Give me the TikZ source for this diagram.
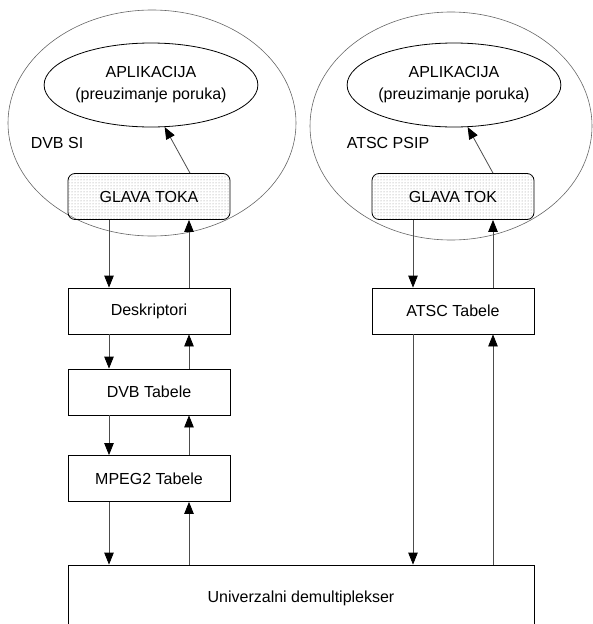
\documentclass[tikz,border=0pt]{standalone}
\usepackage{fontspec}
\setmainfont{Liberation Sans}
\usetikzlibrary{shapes.geometric,patterns,arrows.meta}
\begin{document}
\begin{tikzpicture}[x=1pt,y=-1pt,font=\fontsize{16}{22}\selectfont,
                oval/.style={draw=black!60,line width=0.6pt,ellipse,inner sep=0pt,align=center},
                app/.style={oval,draw=black,line width=0.8pt},
                blok/.style={draw=black,line width=0.8pt,minimum width=162pt,minimum height=46pt,inner sep=0pt},
                glava/.style={blok,rounded corners=7pt,pattern=dots,pattern color=black!45},
                arr/.style={draw=black!70,line width=0.8pt,-{Triangle[length=12pt,width=9.5pt,color=black]}}]
                \useasboundingbox (0,0) rectangle (593,624);
                \clip (0,0) rectangle (593,624);
                % DVB strana
                \node[oval,minimum width=288pt,minimum height=226pt] (O1) at (152,123) {};
                \node[app,minimum width=202pt,minimum height=84pt] (A1) at (151,85) {APLIKACIJA\\(preuzimanje poruka)};
                \node (L1) at (57,143) {DVB SI};
                \node[glava] (G1) at (149,196.5) {GLAVA TOKA};
                \node[blok] (D1) at (149,311) {Deskriptori};
                \node[blok] (D2) at (149,392) {DVB Tabele};
                \node[blok] (D3) at (149,478.5) {MPEG2 Tabele};
                % ATSC strana
                \node[oval,minimum width=282pt,minimum height=228pt] (O2) at (451,126) {};
                \node[app,minimum width=182pt,minimum height=84pt] (A2) at (454,85) {APLIKACIJA\\(preuzimanje poruka)};
                \node (L2) at (388,143) {ATSC PSIP};
                \node[glava] (G2) at (453,196.5) {GLAVA TOK};
                \node[blok] (T1) at (453,311) {ATSC Tabele};
                % demultiplekser
                \node[blok,minimum width=466pt,minimum height=66pt] (U) at (301,598) {Univerzalni demultiplekser};
                % strelice
                \draw[arr] ([xshift=41pt]G1.north) -- (A1.-72);
                \draw[arr] ([xshift=40pt]G2.north) -- (A2.-72);
                \foreach \a/\b in {G1/D1,D1/D2,D2/D3,D3/U,G2/T1,T1/U} {
                    \draw[arr] ([xshift=-40pt]\a.south) -- ([xshift=-40pt]\a.south |- \b.north);
                    \draw[arr] ([xshift=40pt]\a.south |- \b.north) -- ([xshift=40pt]\a.south);
                }
            \end{tikzpicture}
\end{document}
